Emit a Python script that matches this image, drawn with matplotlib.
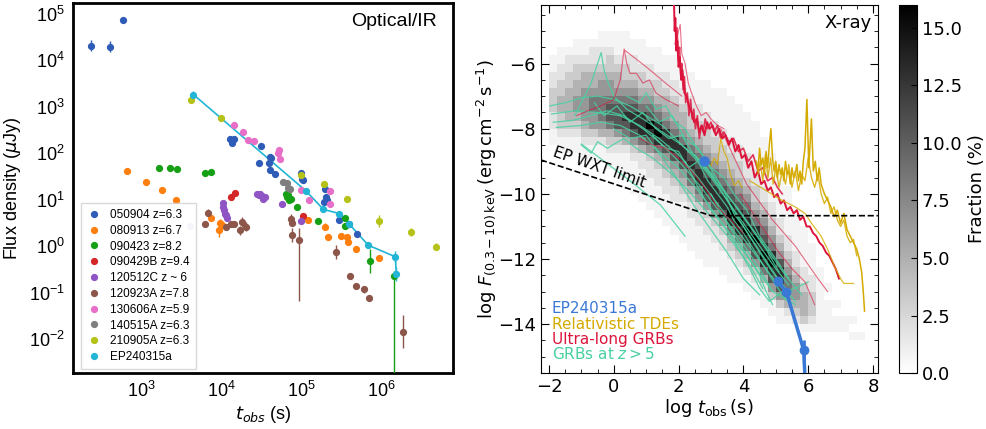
import numpy as np
import matplotlib
matplotlib.use("Agg")
import matplotlib.pyplot as plt
from matplotlib.lines import Line2D
from matplotlib.ticker import MultipleLocator, FixedLocator, NullLocator

# ---------------- left panel: optical/IR light curves ----------------
# rows are (log10 t [s], log10 F [uJy], err [dex]) or (log t, log F, err_lo, err_hi)
grb_names = ["050904 z=6.3", "080913 z=6.7", "090423 z=8.2", "090429B z=9.4",
             "120512C z ~ 6", "120923A z=7.8", "130606A z=5.9", "140515A z=6.3",
             "210905A z=6.3", "EP240315a"]
grb_colors = ["#2f5cb6", "#ff7f0e", "#16a016", "#d62728", "#9055c4",
              "#8c564b", "#e86fc8", "#7f7f7f", "#b5c21a", "#22b5d6"]

pts_050904 = [(2.36, 4.31, 0.12), (2.60, 4.29, 0.12), (2.77, 4.86, 0.06),
              (4.10, 2.31, 0), (4.13, 2.21, 0), (4.15, 2.30, 0), (4.49, 2.16, 0),
              (4.47, 1.78, 0), (4.59, 1.78, 0), (4.61, 1.89, 0), (4.60, 1.63, 0),
              (4.67, 1.55, 0), (4.60, 1.92, 0), (4.99, 1.58, 0), (5.02, 1.42, 0),
              (5.00, 1.44, 0), (5.29, 1.22, 0), (5.30, 1.06, 0), (5.31, 0.99, 0),
              (5.28, 0.95, 0), (5.46, 0.57, 0), (5.59, 0.47, 0), (5.69, 0.26, 0.05)]
pts_080913 = [(2.81, 1.62, 0), (3.05, 1.37, 0), (3.25, 1.21, 0), (3.43, 0.99, 0),
              (3.87, 0.60, 0), (3.98, 0.49, 0.1), (3.96, 0.34, 0.15), (4.00, 0.45, 0),
              (5.08, 0.56, 0), (5.29, 0.42, 0.08), (5.33, 0.19, 0), (5.49, 0.22, 0),
              (5.57, 0.20, 0), (5.58, 0.09, 0), (5.68, -0.07, 0), (5.97, -0.25, 0)]
pts_090423 = [(3.22, 1.68, 0), (3.35, 1.69, 0), (3.44, 1.66, 0), (3.79, 1.57, 0),
              (3.86, 1.60, 0), (4.80, 1.13, 0), (4.82, 1.05, 0), (4.84, 1.00, 0),
              (4.86, 1.02, 0), (4.83, 1.10, 0), (4.94, 0.85, 0), (5.20, 0.54, 0),
              (5.54, 0.60, 0), (5.54, 0.43, 0), (5.85, -0.32, 0.25),
              (6.15, -0.64, 3.0, 0.1)]
pts_090429B = [(4.11, 1.05, 0), (4.17, 1.15, 0), (5.01, 0.65, 0.05)]
pts_120512C = [(4.02, 0.92, 0), (4.02, 0.85, 0), (4.03, 0.78, 0), (4.04, 0.70, 0),
               (4.06, 0.60, 0), (4.05, 0.66, 0), (4.44, 1.13, 0), (4.46, 1.10, 0),
               (4.48, 1.12, 0), (4.50, 1.08, 0), (4.52, 1.02, 0), (4.54, 1.06, 0),
               (4.75, 0.90, 0), (4.99, 0.54, 0)]
pts_120923A = [(3.83, 0.72, 0.08), (3.79, 0.47, 0), (4.05, 0.42, 0), (4.12, 0.47, 0),
               (4.15, 0.48, 0), (4.25, 0.52, 0.1), (4.23, 0.34, 0.1), (4.30, 0.42, 0.1),
               (4.86, 0.59, 0.1), (4.88, 0.50, 0), (4.88, 0.24, 0.15),
               (4.97, 0.13, 1.3, 0.25), (5.43, -0.12, 0.15), (5.60, -0.65, 0),
               (5.68, -0.86, 0), (5.78, -0.93, 0.08), (5.84, -1.12, 0),
               (6.27, -1.84, 0.35)]
pts_130606A = [(4.15, 2.60, 0), (4.26, 2.45, 0), (4.33, 2.29, 0), (4.40, 2.27, 0),
               (4.72, 2.07, 0), (4.70, 2.01, 0), (4.73, 1.87, 0), (4.99, 1.20, 0),
               (5.09, 1.00, 0), (5.35, 1.19, 0), (5.35, 0.90, 0)]
pts_140515A = [(4.77, 1.37, 0), (4.81, 1.35, 0), (4.83, 1.25, 0), (4.85, 1.22, 0)]
pts_210905A = [(3.62, 3.14, 0), (3.99, 2.75, 0), (4.99, 1.53, 0), (5.28, 1.33, 0),
               (5.57, 1.02, 0.06), (5.96, 0.54, 0.12), (6.36, 0.30, 0.08),
               (6.68, -0.01, 0.08)]
pts_ep240315a = [(3.645, 3.26, 0.08), (5.05, 1.19, 0.06), (5.27, 0.79, 0.06),
                 (5.47, 0.70, 0.06), (5.59, 0.48, 0.05), (5.83, 0.02, 0.06),
                 (6.17, -0.23, 0.12), (6.18, -0.59, 0.15)]
pale_point = (3.60, 0.44)

grb_points = [pts_050904, pts_080913, pts_090423, pts_090429B, pts_120512C,
              pts_120923A, pts_130606A, pts_140515A, pts_210905A, pts_ep240315a]

# ---------------- right panel: X-ray ----------------
# fraction map, 0.25 dex bins; each column: first row index + grey levels
level_pct = [0, 0.7, 1.8, 3.2, 4.8, 6.5, 8.5, 10.5, 13.0, 16.0]
dens_x0, dens_y0, dens_step = -2.0, -4.5, 0.25
dens_n_rows = 44
dens_start = [5, 4, 4, 3, 3, 3, 2, 2, 2, 2, 3, 3, 4, 4, 5, 5, 6, 7, 8, 8,
              9, 9, 10, 11, 12, 13, 15, 17, 19, 21, 24, 26, 28, 31, 33, 35, 37, 37, 39, 0]
dens_cols = ["11223332211", "1122334433211", "1223344443211", "11233445543211",
             "112344555543211", "122344566553211", "1122345566654211",
             "11233455677643211", "111234456777532111", "111233456787642111",
             "1122345678875321111", "11123345688864221111", "11223456798753221111",
             "111233456898643221111", "112234456887543221111",
             "1112234456887543221111", "1112234456887543211111",
             "1112233456787643221111", "1112233456788653221111",
             "11112233456788753221111", "1111223345678875322111",
             "11111223345678875322111", "11111223345678986432111",
             "1111122334567898643211", "1111122234567898643211",
             "1111112233456898753211", "111111223456789864211",
             "11111122345689875311", "1111112234578875311", "11111122345665421",
             "11111223455432", "1111122344431", "11112233321", "11111111",
             "101111", "1011", "11", "101", "1", ""]

wxt_t = [-2.25, 3.0, 8.15]
wxt_f = [-8.96, -10.67, -10.67]

ep_x_t = [5.07, 5.33, 5.86, 5.90]
ep_x_f = [-12.69, -13.02, -14.79, -15.6]
ep_x_err = [0.15, 0.10, 0.30, 0.0]
ep_x_first = (2.80, -8.98)

grb_z5_curves = [
    [(-1.97, -7.3), (-1.5, -7.2), (-1.0, -7.05), (-0.5, -7.0), (0.0, -7.1), (0.5, -7.3),
     (1.0, -7.6), (1.5, -7.9), (2.0, -8.4), (2.5, -8.9), (3.0, -9.5), (3.5, -10.2),
     (4.0, -10.9), (4.5, -11.6), (5.0, -12.3), (5.4, -12.8)],
    [(-1.92, -7.55), (-1.2, -7.45), (-0.5, -7.5), (0.2, -7.6), (0.8, -7.9), (1.4, -8.3),
     (2.0, -8.8), (2.6, -9.5), (3.2, -10.3), (3.8, -11.1), (4.4, -11.9), (5.0, -12.7),
     (5.3, -13.0)],
    [(-1.87, -7.8), (-1.3, -7.75), (-0.7, -7.6), (-0.2, -7.45), (0.3, -7.6), (0.9, -8.0),
     (1.5, -8.5), (2.1, -9.1), (2.7, -9.8), (3.3, -10.6), (3.9, -11.4), (4.5, -12.3),
     (4.9, -13.0)],
    [(-1.77, -7.96), (-1.0, -7.9), (-0.4, -7.8), (0.2, -7.9), (0.8, -8.2), (1.4, -8.7),
     (2.0, -9.2), (2.6, -9.9), (3.2, -10.7), (3.8, -11.5), (4.4, -12.3), (4.9, -13.0),
     (5.6, -13.4)],
    [(-1.2, -7.6), (-0.9, -7.0), (-0.7, -6.6), (-0.5, -6.0), (-0.39, -5.66), (-0.3, -6.2),
     (-0.2, -6.5), (0.0, -7.0), (0.4, -7.4), (0.9, -7.7), (1.5, -8.1), (2.1, -8.5),
     (2.7, -9.0), (3.2, -9.6), (3.7, -10.3), (4.2, -11.0), (4.7, -11.7), (5.1, -12.4)],
    [(-1.0, -8.47), (0.5, -9.6), (1.45, -10.35), (2.2, -11.3)],
    [(-1.0, -8.5), (-0.7, -8.75), (-0.5, -8.4), (-0.2, -8.6), (0.3, -8.3), (0.7, -8.6),
     (1.2, -8.9), (1.8, -9.4), (2.4, -10.0), (3.0, -10.7), (3.6, -11.4), (4.2, -12.2),
     (4.6, -12.9)],
    [(0.4, -7.0), (0.8, -7.2), (1.0, -6.9), (1.3, -7.4), (1.6, -7.3), (1.9, -7.8),
     (2.2, -8.0), (2.5, -8.5), (2.8, -8.9), (3.1, -9.4), (3.4, -9.9), (3.7, -10.6),
     (4.0, -11.0), (4.4, -11.6), (4.8, -12.2), (5.2, -12.8), (5.6, -13.3)],
    [(1.2, -8.2), (1.6, -8.6), (2.0, -8.7), (2.3, -9.2), (2.6, -9.0), (2.9, -9.6),
     (3.2, -10.0), (3.5, -10.4), (3.7, -10.8), (4.0, -11.2), (4.5, -12.0), (5.0, -12.8),
     (5.5, -13.5)],
    [(2.2, -9.0), (2.6, -9.8), (3.0, -10.5), (3.4, -11.0), (3.8, -11.6), (4.2, -12.3),
     (4.5, -12.9), (4.8, -13.3), (5.2, -13.0), (5.6, -12.9), (6.0, -12.7)],
    [(2.5, -8.8), (3.0, -9.4), (3.5, -10.2), (4.0, -11.0), (4.5, -11.8), (4.9, -12.4),
     (5.3, -12.9), (5.5, -13.0)],
    [(3.0, -10.0), (3.5, -10.9), (4.0, -11.7), (4.5, -12.5), (4.7, -13.0), (4.9, -13.4)],
    [(-0.6, -7.2), (-0.3, -7.6), (0.1, -7.3), (0.5, -7.8), (0.9, -7.5), (1.3, -8.0),
     (1.7, -8.3), (2.1, -8.2), (2.4, -8.7), (2.8, -9.2), (3.3, -9.8), (3.8, -10.4),
     (4.3, -11.1), (4.8, -11.8), (5.3, -12.5), (5.8, -13.1)],
    [(0.0, -8.0), (0.5, -8.3), (1.0, -8.2), (1.5, -8.9), (2.0, -9.6), (2.5, -10.4),
     (3.0, -11.1), (3.5, -11.8), (4.0, -12.6), (4.5, -13.1)],
    [(1.0, -7.3), (1.4, -7.8), (1.8, -7.6), (2.2, -8.3), (2.6, -8.6), (3.0, -9.2),
     (3.4, -9.5), (3.7, -10.0), (4.1, -10.5), (4.5, -11.3), (5.0, -12.0), (5.4, -12.6)],
]

ulgrb_main_t = [1.86, 1.88, 1.90, 1.93, 1.96, 2.00, 2.04, 2.08, 2.12, 2.18, 2.25, 2.32,
                2.40, 2.48, 2.56, 2.64, 2.72, 2.80, 2.88, 2.96, 3.05, 3.15, 3.25, 3.35,
                3.45, 3.55, 3.65, 3.75, 3.85, 3.95, 4.05, 4.15, 4.25, 4.35, 4.45, 4.55,
                4.65, 4.75, 4.85, 4.95, 5.05, 5.15, 5.25, 5.35, 5.45, 5.55, 5.65, 5.75,
                5.85, 5.95, 6.05, 6.15, 6.25, 6.35, 6.45, 6.55, 6.65, 6.75, 6.85, 6.95]
ulgrb_main_f = [-4.2, -5.0, -4.6, -5.6, -5.3, -6.1, -5.8, -6.5, -6.2, -6.9, -7.0, -7.3,
                -7.5, -7.8, -7.7, -8.1, -7.9, -8.2, -7.8, -8.0, -7.9, -8.2, -8.0, -8.3,
                -8.2, -8.5, -8.3, -8.7, -8.5, -8.9, -8.8, -9.2, -9.0, -9.5, -9.3, -9.7,
                -9.6, -9.9, -9.8, -10.1, -10.0, -10.3, -10.2, -10.5, -10.4, -10.6, -10.5,
                -10.8, -10.7, -11.0, -11.0, -11.2, -11.3, -11.5, -11.6, -11.8, -11.9,
                -12.1, -12.3, -12.6]
ulgrb_band_t = [1.90, 1.95, 2.00, 2.03, 2.07, 2.10, 2.14, 2.18, 2.22, 2.27, 2.32, 2.37,
                2.42, 2.47, 2.52, 2.58, 2.64, 2.70, 2.76, 2.82, 2.90, 3.00, 3.10, 3.20,
                3.30, 3.40, 3.55, 3.70, 3.85, 4.00, 4.15, 4.30, 4.45, 4.60, 4.75, 4.90,
                5.05, 5.20]
ulgrb_band_f = [-5.4, -4.9, -5.9, -5.5, -6.4, -6.0, -6.8, -6.4, -7.2, -6.9, -7.6, -7.1,
                -7.7, -7.4, -8.0, -7.6, -8.3, -7.9, -8.1, -7.7, -8.0, -7.8, -8.1, -7.9,
                -8.3, -8.1, -8.4, -8.3, -8.7, -8.6, -9.0, -8.8, -9.3, -9.2, -9.6, -9.5,
                -9.8, -10.0]
ulgrb_thin_curves = [
    [(1.95, -5.2), (2.05, -4.8), (2.1, -5.7), (2.2, -6.0), (2.3, -6.6), (2.4, -6.9),
     (2.55, -7.3), (2.7, -7.6), (2.85, -7.5), (3.0, -7.7), (3.2, -7.9), (3.4, -8.0)],
    [(-1.15, -7.6), (-0.8, -7.45), (-0.4, -7.3), (0.0, -7.1), (0.2, -6.5), (0.32, -5.55),
     (0.4, -6.0), (0.5, -6.3), (0.7, -6.3), (0.9, -6.6), (1.1, -6.5), (1.3, -6.9),
     (1.6, -7.1), (2.0, -7.3)],
    [(0.35, -5.6), (1.0, -6.1), (1.6, -6.6), (2.1, -7.0)],
    [(0.8, -8.3), (1.2, -8.5), (1.6, -8.6), (2.0, -8.9), (2.4, -9.3), (2.8, -9.8),
     (3.2, -10.4), (3.6, -10.8), (4.0, -11.2)],
    [(3.9, -10.0), (4.3, -10.6), (4.7, -11.2), (5.1, -11.8), (5.5, -12.3), (5.9, -12.7),
     (6.2, -13.4)],
    [(3.3, -8.0), (4.1, -9.7), (4.9, -10.8), (5.6, -11.6), (6.3, -12.6), (6.6, -13.0)],
]

tde_main_t = [4.40, 4.45, 4.50, 4.55, 4.60, 4.65, 4.70, 4.75, 4.80, 4.85, 4.90, 4.95,
              5.00, 5.05, 5.10, 5.15, 5.20, 5.25, 5.30, 5.35, 5.40, 5.45, 5.50, 5.55,
              5.60, 5.65, 5.70, 5.75, 5.80, 5.85, 5.90, 5.96, 6.02, 6.10, 6.16, 6.22,
              6.28, 6.34, 6.40, 6.50, 6.60, 6.70, 6.80, 6.90, 7.00, 7.10, 7.20, 7.30,
              7.40, 7.50, 7.58, 7.65, 7.70, 7.74]
tde_main_f = [-9.0, -9.3, -8.6, -9.1, -8.9, -9.4, -8.7, -9.2, -8.5, -8.0, -8.9, -9.3,
              -9.0, -9.5, -9.1, -9.4, -9.2, -9.6, -9.0, -9.4, -9.3, -9.7, -9.2, -9.5,
              -9.4, -9.1, -9.6, -9.3, -9.7, -9.0, -8.6, -7.1, -9.2, -7.7, -9.3, -9.0,
              -9.6, -9.2, -9.7, -10.0, -10.2, -10.4, -10.7, -10.5, -10.9, -10.6, -11.1,
              -11.3, -11.5, -11.7, -12.0, -12.4, -13.0, -13.6]
tde_band_t = [4.45, 4.52, 4.60, 4.68, 4.76, 4.84, 4.92, 5.00, 5.10, 5.20, 5.30, 5.40,
              5.50, 5.60, 5.70, 5.80, 5.90, 6.00, 6.10, 6.20, 6.30, 6.40, 6.50, 6.60,
              6.70, 6.80, 6.90, 7.00, 7.10, 7.20, 7.30, 7.40, 7.50]
tde_band_f = [-9.4, -9.0, -9.6, -8.8, -9.5, -8.9, -9.7, -9.2, -9.8, -9.3, -9.7, -9.1,
              -9.8, -9.3, -9.9, -9.4, -9.6, -8.9, -9.5, -9.8, -9.4, -10.0, -10.3, -10.1,
              -10.6, -10.4, -10.8, -11.0, -10.8, -11.3, -11.5, -11.4, -11.9]
tde_thin_curves = [
    [(3.0, -9.13), (3.1, -8.9), (3.2, -9.1), (3.3, -8.3), (3.4, -8.7), (3.5, -8.9),
     (3.6, -9.4), (3.72, -9.75), (3.85, -9.6), (3.95, -9.8)],
    [(4.2, -9.6), (4.7, -9.9), (5.2, -10.2), (5.6, -10.4), (5.9, -10.6), (6.1, -10.9),
     (6.4, -11.3), (6.6, -11.7), (6.8, -12.2), (7.0, -12.6), (7.1, -12.75), (7.4, -12.75)],
]

c_ep = "#3a78d6"
c_tde = "#d4aa00"
c_ul = "#dc143c"
c_z5 = "#48d1a0"

fig = plt.figure(figsize=(9.87, 4.29), dpi=100)
ax1 = fig.add_axes([0.074, 0.1305, 0.385, 0.8625])
ax2 = fig.add_axes([0.548, 0.1305, 0.3414, 0.858])
cax = fig.add_axes([0.911, 0.1305, 0.0182, 0.858])

# ---- left panel
for col, pts in zip(grb_colors, grb_points):
    lt = np.array([p[0] for p in pts])
    lf = np.array([p[1] for p in pts])
    lo = np.array([p[2] for p in pts])
    hi = np.array([p[3] if len(p) > 3 else p[2] for p in pts])
    t, f = 10 ** lt, 10 ** lf
    yerr = [f - f * 10 ** (-lo), f * 10 ** hi - f]
    if col == grb_colors[-1]:
        ax1.plot(t, f, "-", color=col, lw=1.2, zorder=3)
    ax1.errorbar(t, f, yerr=yerr, fmt="o", ms=4.2, color=col, ecolor=col,
                 elinewidth=1.0, capsize=0, zorder=4)
ax1.plot(10 ** pale_point[0], 10 ** pale_point[1], "o", ms=4.2,
         color=grb_colors[4], alpha=0.25)

ax1.set_xscale("log")
ax1.set_yscale("log")
ax1.set_xlim(10 ** 2.14, 10 ** 6.89)
ax1.set_ylim(10 ** -2.73, 10 ** 5.23)
ax1.xaxis.set_major_locator(FixedLocator([1e3, 1e4, 1e5, 1e6]))
ax1.yaxis.set_major_locator(FixedLocator([1e-2, 1e-1, 1e0, 1e1, 1e2, 1e3, 1e4, 1e5]))
ax1.xaxis.set_minor_locator(NullLocator())
ax1.yaxis.set_minor_locator(NullLocator())
ax1.tick_params(length=0, labelsize=13, labelfontfamily="Liberation Sans", pad=6)
for sp in ax1.spines.values():
    sp.set_linewidth(2.0)
ax1.set_xlabel(r"$t_{obs}$ (s)", fontsize=13, family="Liberation Sans", labelpad=2)
ax1.set_ylabel(r"Flux density ($\mu$Jy)", fontsize=13, family="Liberation Sans")
ax1.text(0.958, 0.95, "Optical/IR", transform=ax1.transAxes, ha="right", va="center",
         fontsize=14, family="Liberation Sans")
handles = [Line2D([], [], marker="o", ls="", color=c, ms=4.2) for c in grb_colors]
ax1.legend(handles, grb_names, loc="lower left", bbox_to_anchor=(0.005, -0.005),
           prop={"family": "Liberation Sans", "size": 8.5}, frameon=True,
           fancybox=False, edgecolor="#d0d0d0", labelspacing=0.32,
           handletextpad=0.8, borderpad=0.5, handlelength=1.2)

# ---- right panel
grid = np.zeros((dens_n_rows, len(dens_cols)))
for c, (r0, levels) in enumerate(zip(dens_start, dens_cols)):
    for k, ch in enumerate(levels):
        grid[r0 + k, c] = level_pct[int(ch)]
grid = np.ma.masked_equal(grid, 0)
xe = dens_x0 + dens_step * np.arange(len(dens_cols) + 1)
ye = dens_y0 - dens_step * np.arange(dens_n_rows + 1)
mesh = ax2.pcolormesh(xe, ye, grid, cmap="gray_r", vmin=0, vmax=16, zorder=0)

for cur in grb_z5_curves:
    ax2.plot([p[0] for p in cur], [p[1] for p in cur], color=c_z5, lw=0.9, alpha=0.85,
             zorder=2)
for cur in ulgrb_thin_curves:
    ax2.plot([p[0] for p in cur], [p[1] for p in cur], color=c_ul, lw=0.8, alpha=0.6,
             zorder=3)
ax2.plot(ulgrb_main_t, ulgrb_main_f, color=c_ul, lw=1.4, zorder=3)
ax2.plot(ulgrb_band_t, ulgrb_band_f, color=c_ul, lw=1.2, alpha=0.85, zorder=3)
for cur in tde_thin_curves:
    ax2.plot([p[0] for p in cur], [p[1] for p in cur], color=c_tde, lw=0.9, alpha=0.8,
             zorder=3)
ax2.plot(tde_main_t, tde_main_f, color=c_tde, lw=1.1, zorder=3)
ax2.plot(tde_band_t, tde_band_f, color=c_tde, lw=1.0, alpha=0.85, zorder=3)

ax2.plot(wxt_t, wxt_f, "k--", lw=1.2, zorder=4)
ax2.text(-0.45, -9.18, "EP WXT limit", rotation=-19, ha="center", va="center",
         fontsize=11, zorder=5)

ax2.errorbar(ep_x_t, ep_x_f, yerr=ep_x_err, fmt="-", color=c_ep, lw=2.5,
             elinewidth=2.0, capsize=0, zorder=6)
ax2.plot(ep_x_t[:3], ep_x_f[:3], "o", color=c_ep, ms=6, zorder=7)
ax2.plot(*ep_x_first, "o", color=c_ep, ms=6.5, zorder=7)

ax2.set_xlim(-2.25, 8.15)
ax2.set_ylim(-15.5, -4.2)
ax2.xaxis.set_major_locator(MultipleLocator(2))
ax2.yaxis.set_major_locator(MultipleLocator(2))
ax2.xaxis.set_minor_locator(MultipleLocator(0.5))
ax2.yaxis.set_minor_locator(MultipleLocator(0.5))
ax2.tick_params(which="both", direction="in", top=True, right=True, labelsize=13)
ax2.tick_params(which="major", length=6)
ax2.tick_params(which="minor", length=3)
ax2.set_xlabel(r"log $t_{\rm obs}\,$(s)", fontsize=13, labelpad=1)
ax2.set_ylabel(r"log $F_{(0.3-10)\,\rm keV}\,$(erg$\,$cm$^{-2}\,$s$^{-1}$)",
               fontsize=13, labelpad=0)
ax2.text(0.982, 0.951, "X-ray", transform=ax2.transAxes, ha="right", va="center",
         fontsize=13)
for txt, col, yy in [("EP240315a", c_ep, -13.53), ("Relativistic TDEs", c_tde, -14.0),
                     ("Ultra-long GRBs", c_ul, -14.46), (r"GRBs at $z>5$", c_z5, -14.92)]:
    ax2.text(-1.92, yy, txt, color=col, ha="left", va="center", fontsize=11, zorder=8)

cb = fig.colorbar(mesh, cax=cax)
cb.set_ticks([0, 2.5, 5, 7.5, 10, 12.5, 15])
cb.ax.set_yticklabels(["0.0", "2.5", "5.0", "7.5", "10.0", "12.5", "15.0"])
cb.ax.tick_params(labelsize=13, direction="in", length=4)
cb.set_label("Fraction (%)", fontsize=13)

fig.savefig("out.png", dpi=100)
